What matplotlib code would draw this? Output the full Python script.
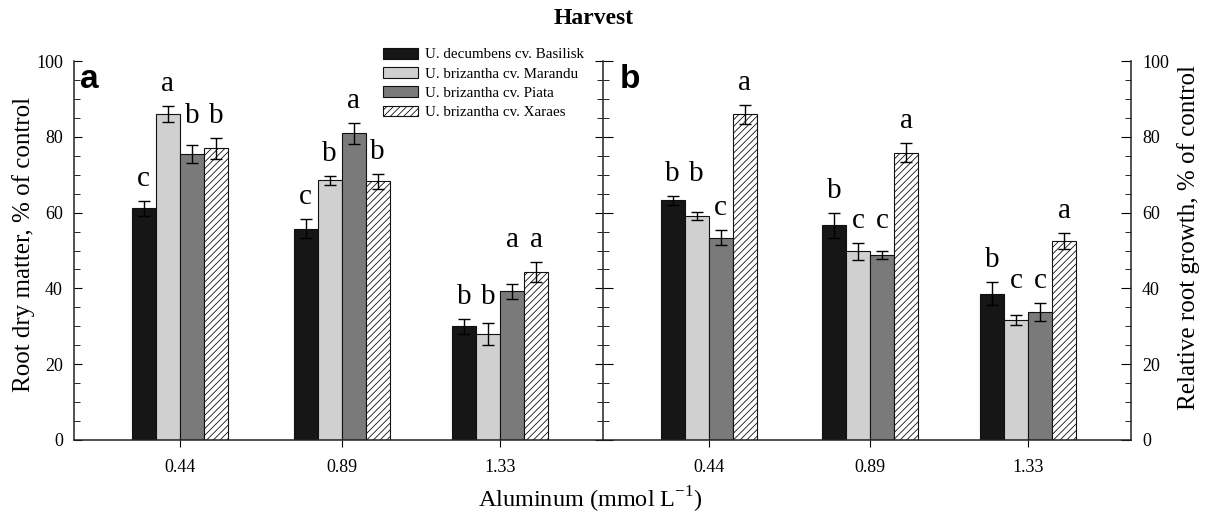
import numpy as np
import matplotlib
matplotlib.use("Agg")
import matplotlib.pyplot as plt
from matplotlib.ticker import MultipleLocator

plt.rcParams['font.family'] = ['Liberation Serif', 'DejaVu Serif']
plt.rcParams['hatch.linewidth'] = 0.6

# Data
al_levels = [0.44, 0.89, 1.33]
al_labels = ['0.44', '0.89', '1.33']
cultivars = ['U. decumbens cv. Basilisk', 'U. brizantha cv. Marandu',
             'U. brizantha cv. Piata', 'U. brizantha cv. Xaraes']

# panel a: root dry matter, % of control (rows = cultivars, cols = Al levels)
dm_mean = [[61.1, 55.8, 30.0],
           [86.0, 68.5, 28.0],
           [75.4, 80.9, 39.2],
           [77.0, 68.3, 44.3]]
dm_err = [[2.0, 2.6, 1.9],
          [2.2, 1.2, 2.9],
          [2.4, 2.7, 1.9],
          [2.8, 2.0, 2.6]]
dm_letters = [['c', 'c', 'b'],
              ['a', 'b', 'b'],
              ['b', 'a', 'a'],
              ['b', 'b', 'a']]

# panel b: relative root growth, % of control
rg_mean = [[63.2, 56.6, 38.6],
           [59.1, 49.8, 31.6],
           [53.4, 48.9, 33.8],
           [85.9, 75.8, 52.6]]
rg_err = [[1.2, 3.4, 3.1],
          [1.1, 2.2, 1.3],
          [1.9, 1.1, 2.4],
          [2.5, 2.5, 2.1]]
rg_letters = [['b', 'b', 'b'],
              ['b', 'c', 'c'],
              ['c', 'c', 'c'],
              ['a', 'a', 'a']]

colors = ['#161616', '#d0d0d0', '#7a7a7a', 'white']
hatches = [None, None, None, '/////']
bar_w = 0.0667

fig = plt.figure(figsize=(12.08, 5.17), dpi=100)
W, H = 1208, 517
ax_a = fig.add_axes([74 / W, 77 / H, 529 / W, 379 / H])
ax_b = fig.add_axes([603 / W, 77 / H, 528 / W, 379 / H])


def draw_panel(ax, means, errs, letters):
    x = np.array(al_levels)
    handles = []
    for i in range(4):
        xi = x + (i - 1.5) * bar_w
        b = ax.bar(xi, means[i], bar_w, color=colors[i], edgecolor='#111111',
                   linewidth=0.8, hatch=hatches[i], label=cultivars[i], zorder=2)
        ax.errorbar(xi, means[i], yerr=errs[i], fmt='none', ecolor='black',
                    elinewidth=1, capsize=4.5, capthick=1, zorder=3)
        handles.append(b)
    # significance letters: neighbouring equal letters share a height
    for j in range(3):
        tops = [means[i][j] + errs[i][j] for i in range(4)]
        i = 0
        while i < 4:
            k = i
            while k + 1 < 4 and letters[k + 1][j] == letters[i][j]:
                k += 1
            y = max(tops[i:k + 1]) + 5.8
            for m in range(i, k + 1):
                ax.text(x[j] + (m - 1.5) * bar_w, y, letters[m][j],
                        ha='center', va='center', fontsize=21)
            i = k + 1
    ax.set_xlim(0.146, 1.616)
    ax.set_ylim(0, 100)
    ax.set_xticks(al_levels)
    ax.set_xticklabels(al_labels, fontsize=13)
    ax.tick_params(axis='x', direction='out', length=5, pad=9)
    ax.yaxis.set_major_locator(MultipleLocator(20))
    ax.yaxis.set_minor_locator(MultipleLocator(5))
    ax.spines['top'].set_visible(False)
    for s in ax.spines.values():
        s.set_linewidth(1.1)
        s.set_color('#222222')
    return handles


handles = draw_panel(ax_a, dm_mean, dm_err, dm_letters)
draw_panel(ax_b, rg_mean, rg_err, rg_letters)

# panel a: ticks inward on left, plus inward ticks on the shared middle spine
ax_a.spines['right'].set_visible(False)
ax_a.tick_params(axis='y', which='major', direction='in', length=6,
                 left=True, right=True, labelsize=13, pad=8)
ax_a.tick_params(axis='y', which='minor', direction='in', length=4,
                 left=True, right=True)
ax_a.set_ylabel('Root dry matter, % of control', fontsize=18)
ax_a.yaxis.set_label_coords(-0.074, 0.515)

ax_b.tick_params(axis='y', which='major', direction='in', length=7,
                 left=True, right=True, labelleft=False, labelright=True,
                 labelsize=13, pad=8)
ax_b.tick_params(axis='y', which='minor', direction='in', length=4,
                 left=True, right=True)
ax_b.yaxis.set_label_position('right')
ax_b.set_ylabel('Relative root growth, % of control', fontsize=18)
ax_b.yaxis.set_label_coords(1.087, 0.535)

ax_a.text(0.011, 0.93, 'a', transform=ax_a.transAxes, fontsize=24,
          fontweight='bold', family='Liberation Sans', va='baseline')
ax_b.text(0.032, 0.93, 'b', transform=ax_b.transAxes, fontsize=24,
          fontweight='bold', family='Liberation Sans', va='baseline')

fig.text(594 / W, 1 - 18 / H, 'Harvest', ha='center', va='center',
         fontsize=17, fontweight='bold')
fig.text(590 / W, 1 - 500 / H, r'Aluminum (mmol L$^{\mathregular{-1}}$)',
         ha='center', va='center', fontsize=17.5)

fig.legend(handles=handles, loc='upper left',
           bbox_to_anchor=(383 / W, 1 - 48 / H), frameon=False, fontsize=10.8,
           borderpad=0, borderaxespad=0, handlelength=2.3, handleheight=0.7,
           handletextpad=0.5, labelspacing=0.38)

fig.savefig('out.png', dpi=100)
